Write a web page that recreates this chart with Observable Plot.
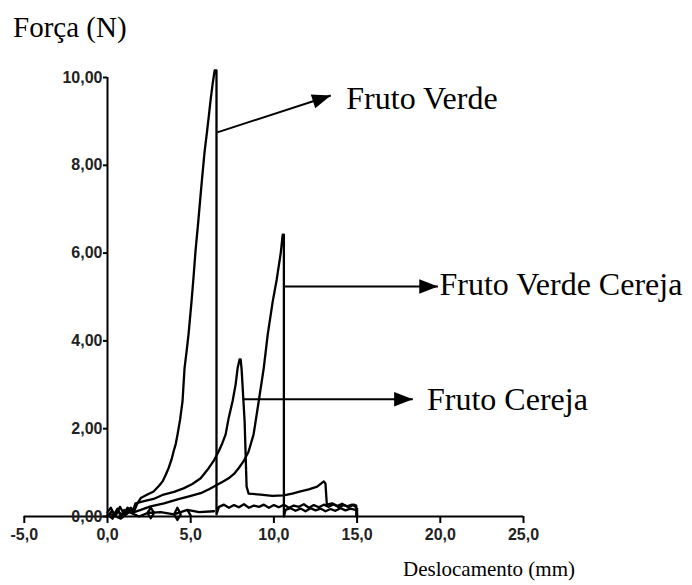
<!DOCTYPE html>
<html>
<head>
<meta charset="utf-8">
<script src="https://cdn.jsdelivr.net/npm/d3@7"></script>
<script src="https://cdn.jsdelivr.net/npm/@observablehq/plot@0.6"></script>
<style>
  html, body { margin: 0; padding: 0; background: #fff; }
  #wrap { position: relative; width: 692px; height: 585px; overflow: hidden; }
  #wrap svg { position: absolute; left: 0; top: 0; }
  .lbl { position: absolute; font-family: "Liberation Serif", "Times New Roman", serif; color: #000; line-height: 1em; white-space: nowrap; }
</style>
</head>
<body>
<div id="wrap">
  <div class="lbl" id="ylab" style="left:13px; top:13px; font-size:29px;">Força (N)</div>
  <div class="lbl" id="xlab" style="left:403px; top:559px; font-size:21px;">Deslocamento (mm)</div>
</div>
<script>
// Tick values
const xTicks = [-5, 0, 5, 10, 15, 20, 25];
const yTicks = [0, 2, 4, 6, 8, 10];

// Fruto Verde
const fvX = [0, 0.2, 0.4, 0.6, 0.8, 1.0, 1.2, 1.4, 1.6, 1.8, 2.0, 2.4, 2.77, 3.1, 3.31, 3.5, 3.67, 3.85, 3.97, 4.1, 4.21, 4.36, 4.51, 4.63, 4.75, 4.87, 5.05, 5.17, 5.29, 5.45, 5.6, 5.72, 5.84, 5.96, 6.08, 6.2, 6.32, 6.44, 6.55, 6.55,
  6.7, 7.0, 7.3, 7.6, 7.9, 8.2, 8.5, 8.8, 9.1, 9.4, 9.7, 10.0, 10.3, 10.6, 10.9, 11.2, 11.5, 11.8, 12.1, 12.4, 12.7, 13.0, 13.3, 13.6, 13.9, 14.2, 14.5, 14.8, 14.95, 14.95];
const fvY = [0.1, 0.2, 0.05, 0.18, 0.0, 0.15, 0.08, 0.2, 0.12, 0.3, 0.42, 0.5, 0.57, 0.7, 0.8, 0.95, 1.1, 1.3, 1.48, 1.65, 1.87, 2.2, 2.63, 3.38, 3.75, 4.15, 4.9, 5.45, 6.05, 6.7, 7.35, 7.85, 8.33, 8.7, 9.09, 9.5, 9.86, 10.16, 10.16, 0.05,
  0.22, 0.27, 0.2, 0.26, 0.21, 0.28, 0.2, 0.25, 0.22, 0.27, 0.2, 0.26, 0.21, 0.27, 0.2, 0.25, 0.22, 0.28, 0.2, 0.26, 0.21, 0.27, 0.22, 0.28, 0.21, 0.26, 0.22, 0.27, 0.25, 0];

// Fruto Cereja
const fcX = [0, 0.3, 0.6, 0.9, 1.2, 1.5, 1.68, 2.2, 2.77, 3.37, 4.0, 4.57, 5.1, 5.6, 6.08, 6.4, 6.68, 6.9, 7.1, 7.28, 7.52, 7.7, 7.82, 7.94, 8.0, 8.06, 8.24, 8.36, 8.48, 9.2, 9.9, 10.59, 11.1, 11.6, 12.1, 12.6, 13.0, 13.1, 13.18, 13.5, 13.8, 14.1, 14.4, 14.7, 14.9];
const fcY = [0.05, -0.05, 0.15, 0.0, 0.2, 0.1, 0.3, 0.35, 0.4, 0.5, 0.56, 0.64, 0.74, 0.87, 1.1, 1.28, 1.48, 1.67, 1.87, 2.24, 2.63, 3.01, 3.38, 3.58, 3.58, 3.35, 2.17, 0.68, 0.52, 0.5, 0.47, 0.48, 0.52, 0.57, 0.62, 0.68, 0.8, 0.75, 0.27, 0.3, 0.24, 0.29, 0.23, 0.27, 0.22];

// Fruto Verde Cereja
const fvcX = [0, 0.25, 0.5, 0.75, 1.0, 1.3, 1.6, 2.0, 2.59, 3.4, 4.21, 4.9, 5.6, 6.1, 6.62, 6.95, 7.28, 7.6, 7.88, 8.18, 8.48, 8.78, 9.09, 9.39, 9.63, 9.93, 10.17, 10.41, 10.53, 10.6, 10.6,
  10.7, 11.0, 11.3, 11.6, 11.9, 12.2, 12.5, 12.8, 13.1, 13.4, 13.7, 14.0, 14.3, 14.6, 14.9, 15.0, 15.0];
const fvcY = [0.0, 0.12, 0.02, 0.22, 0.05, 0.18, 0.1, 0.15, 0.23, 0.3, 0.39, 0.46, 0.53, 0.62, 0.73, 0.8, 0.87, 0.97, 1.1, 1.26, 1.48, 1.87, 2.63, 3.38, 4.15, 4.9, 5.4, 6.0, 6.42, 6.42, 0.0,
  0.15, 0.19, 0.13, 0.18, 0.12, 0.19, 0.14, 0.18, 0.12, 0.17, 0.13, 0.19, 0.14, 0.18, 0.15, 0.18, 0];

// baseline noise near the start
const noiseX = [0.2, 0.8, 1.3, 1.9, 2.4, 2.6, 2.8, 2.6, 2.4, 3.2, 4.0, 4.2, 4.4, 4.2, 4.0, 4.8, 5.0, 4.8, 5.5, 6.4];
const noiseY = [0.05, -0.05, 0.1, 0.0, 0.08, 0.2, 0.08, -0.04, 0.08, 0.1, 0.05, 0.2, 0.05, -0.08, 0.05, 0.15, 0.02, 0.15, 0.1, 0.12];

// Annotations (data units)
const annLabels = ["Fruto Verde", "Fruto Verde Cereja", "Fruto Cereja"];
const annX1 = [6.6, 10.6, 8.12];
const annY1 = [8.75, 5.24, 2.67];
const annX2 = [13.42, 19.86, 18.35];
const annY2 = [9.59, 5.24, 2.67];
const annTX = [14.35, 19.95, 19.2];
const annTY = [9.51, 5.28, 2.66];
const annRot = [-18, 0, 0];

const toPts = (xs, ys) => xs.map((x, i) => ({x, y: ys[i]}));
const fv = toPts(fvX, fvY);
const fc = toPts(fcX, fcY);
const fvc = toPts(fvcX, fvcY);
const noise = toPts(noiseX, noiseY);
const ann = annLabels.map((label, i) => ({label, x1: annX1[i], y1: annY1[i], x2: annX2[i], y2: annY2[i], tx: annTX[i], ty: annTY[i], rot: annRot[i]}));

const arrowHead = {
  draw(ctx, size) {
    const r = Math.sqrt(size / Math.PI);
    const L = 2.2 * r, W = 1.7 * r;
    ctx.moveTo(0, 0);
    ctx.lineTo(-L, -W / 2);
    ctx.lineTo(-L, W / 2);
    ctx.closePath();
  }
};

const tickFont = "'Liberation Sans', Arial, sans-serif";
const fmt1 = d => d.toFixed(1).replace(".", ",");
const fmt2 = d => d.toFixed(2).replace(".", ",");
const lineOpts = {x: "x", y: "y", stroke: "black", strokeWidth: 2.3};

const chart = Plot.plot({
  width: 692,
  height: 585,
  marginLeft: 107,
  marginRight: 169,
  marginTop: 77,
  marginBottom: 69,
  x: {domain: [0, 25], label: null},
  y: {domain: [0, 10], label: null},
  style: {background: "transparent", color: "black", overflow: "visible"},
  marks: [
    Plot.line(noise, lineOpts),
    Plot.line(fv, lineOpts),
    Plot.line(fc, lineOpts),
    Plot.line(fvc, lineOpts),
    Plot.ruleY([0], {x1: xTicks[0], x2: xTicks[xTicks.length - 1], stroke: "black", strokeWidth: 2}),
    Plot.ruleX([0], {y1: yTicks[0], y2: yTicks[yTicks.length - 1], stroke: "black", strokeWidth: 2}),
    Plot.axisX({ticks: xTicks, tickSize: 7, tickPadding: 5, tickFormat: fmt1, label: null, strokeWidth: 2, fontSize: 16, fontFamily: tickFont, fontWeight: "bold", fill: "#222"}),
    Plot.axisY({ticks: yTicks, tickSize: 4, tickPadding: 1, tickFormat: fmt2, label: null, strokeWidth: 2, fontSize: 16, fontFamily: tickFont, fontWeight: "bold", fill: "#222"}),
    Plot.link(ann, {x1: "x1", y1: "y1", x2: "x2", y2: "y2", stroke: "black", strokeWidth: 2}),
    Plot.dot(ann, {x: "x2", y: "y2", symbol: arrowHead, r: 8.5, fill: "black", stroke: null, rotate: "rot"}),
    Plot.text(ann, {x: "tx", y: "ty", text: "label", textAnchor: "start", fontSize: 32, fontFamily: "'Liberation Serif', 'Times New Roman', serif", fill: "black"})
  ]
});
document.getElementById("wrap").prepend(chart);
</script>
</body>
</html>
